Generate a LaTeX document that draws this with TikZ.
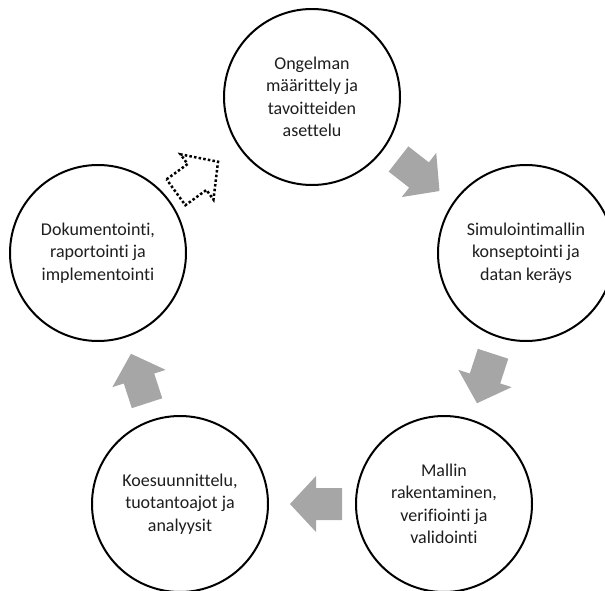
\documentclass[tikz,border=0pt]{standalone}
\usepackage{fontspec}
\setmainfont{Carlito}[RawFeature={-liga;-clig;-dlig}]
\usetikzlibrary{calc}
\definecolor{arrowgray}{RGB}{166,166,166}
\definecolor{txt}{RGB}{30,30,30}
\tikzset{
  stage/.style={circle, draw=black, line width=2pt, fill=white, minimum size=176pt,
    inner sep=0pt, align=center, text=txt,
    font=\fontsize{18pt}{22.5pt}\selectfont},
  blockarrow/.pic={\path[pic actions] (-26,-16) -- (0,-16) -- (0,-28) -- (26,0) -- (0,28) -- (0,16) -- (-26,16) -- cycle;},
  grayarrow/.style={fill=arrowgray, draw=none},
  dotarrow/.style={draw=black, fill=none, line width=2.5pt, dash pattern=on 2.5pt off 2.2pt}
}
\begin{document}
\begin{tikzpicture}[x=1pt,y=-1pt]
\useasboundingbox (0,0) rectangle (605,591);
\clip (0,0) rectangle (605,591);
\node[stage] (s1) at (312,97) {Ongelman\\määrittely ja\\tavoitteiden\\asettelu};
\node[stage] (s2) at (526,253) {Simulointimallin\\konseptointi ja\\datan keräys};
\node[stage] (s3) at (444,504) {Mallin\\rakentaminen,\\verifiointi ja\\validointi};
\node[stage] (s4) at (180,504) {Koesuunnittelu,\\tuotantoajot ja\\analyysit};
\node[stage] (s5) at (98,253) {Dokumentointi,\\raportointi ja\\implementointi};
\coordinate (a12) at ($(s1)!0.5!(s2)$);
\coordinate (a23) at ($(s2)!0.5!(s3)$);
\coordinate (a34) at ($(s3)!0.5!(s4)$);
\coordinate (a45) at ($(s4)!0.5!(s5)$);
\coordinate (a51) at ($(s5)!0.5!(s1)$);
\pic[grayarrow, rotate=-38] at (a12) {blockarrow};
\pic[grayarrow, rotate=-108] at (a23) {blockarrow};
\pic[grayarrow, rotate=180] at ($(a34)+(4,0)$) {blockarrow};
\pic[grayarrow, rotate=108] at (a45) {blockarrow};
\pic[dotarrow, rotate=36] at ($(a51)+(-8,2)$) {blockarrow};
\end{tikzpicture}
\end{document}
